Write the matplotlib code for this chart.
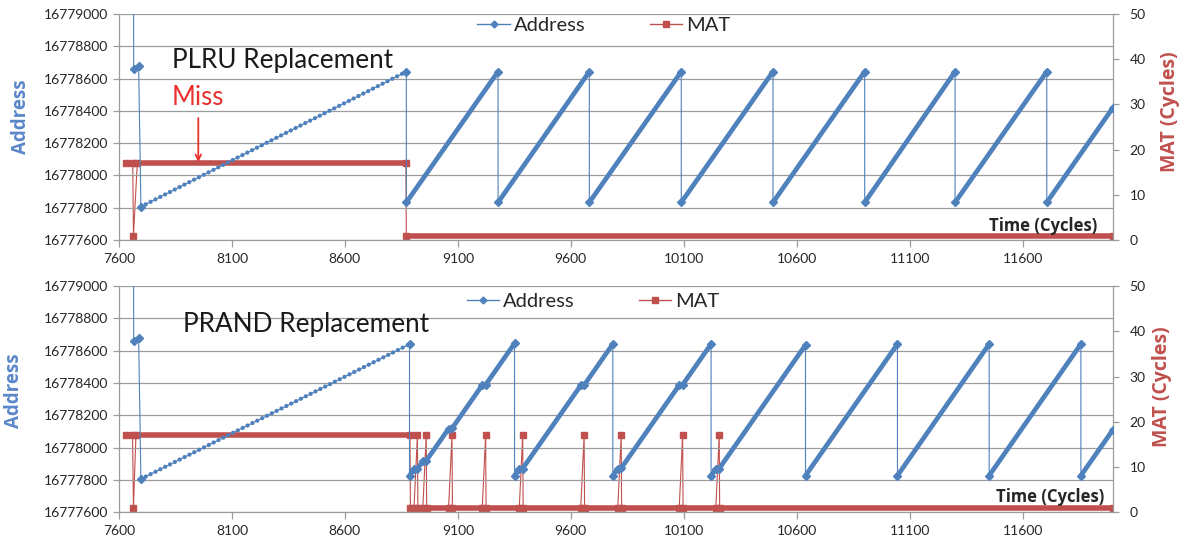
import matplotlib.pyplot as plt
from matplotlib.lines import Line2D

plt.rcParams['font.family'] = ['Lato', 'DejaVu Sans']

# ---- data (time in cycles) ----
# segment kinds: 'step' = single jump, 'sparse' = spaced samples, 'dense' = packed samples
x_ticks = [7600, 8100, 8600, 9100, 9600, 10100, 10600, 11100, 11600]
addr_ticks = [16777600, 16777800, 16778000, 16778200, 16778400, 16778600, 16778800, 16779000]
mat_ticks = [0, 10, 20, 30, 40, 50]

plru_addr_t = [7664, 7665, 7687, 7697, 8872, 8872, 9278, 9278, 9682, 9682, 10089, 10089,
               10495, 10495, 10901, 10901, 11301, 11301, 11707, 11707, 12000]
plru_addr_v = [16779900, 16778661, 16778678, 16777806, 16778643, 16777833, 16778643,
               16777833, 16778643, 16777833, 16778643, 16777833, 16778643, 16777833,
               16778643, 16777833, 16778643, 16777833, 16778643, 16777833, 16778420]
plru_addr_seg = ['step', 'sparse', 'step', 'sparse'] + ['step', 'dense'] * 8

plru_mat_t = [7631, 7661, 7664, 7681, 8870, 8872, 12000]
plru_mat_v = [17, 17, 1, 17, 17, 1, 1]
plru_mat_seg = ['dense', 'step', 'step', 'dense', 'step', 'dense']

prand_addr_t = [7664, 7665, 7687, 7697, 8886, 8886, 8906, 8921, 8945, 8960, 9059, 9074,
                9208, 9223, 9351, 9351, 9372, 9387, 9644, 9659, 9786, 9786, 9808, 9823,
                10080, 10095, 10221, 10221, 10242, 10257, 10639, 10639, 11046, 11046,
                11452, 11452, 11858, 11858, 12000]
prand_addr_v = [16779900, 16778661, 16778678, 16777806, 16778640, 16777827, 16777867,
                16777869, 16777917, 16777919, 16778117, 16778119, 16778387, 16778389,
                16778645, 16777827, 16777869, 16777871, 16778385, 16778387, 16778641,
                16777827, 16777871, 16777873, 16778387, 16778389, 16778641, 16777827,
                16777869, 16777871, 16778635, 16777827, 16778641, 16777827, 16778641,
                16777827, 16778641, 16777827, 16778111]
prand_addr_seg = ['step', 'sparse', 'step', 'sparse',
                  'step', 'dense', 'step', 'dense', 'step', 'dense', 'step', 'dense', 'step', 'dense',
                  'step', 'dense', 'step', 'dense', 'step', 'dense',
                  'step', 'dense', 'step', 'dense', 'step', 'dense',
                  'step', 'dense', 'step', 'dense',
                  'step', 'dense', 'step', 'dense', 'step', 'dense', 'step', 'dense']

prand_mat_t = [7629, 7660, 7664, 7675, 8888, 8890, 8906, 8921, 8923, 8945, 8960, 8962,
               9059, 9074, 9076, 9208, 9223, 9225, 9372, 9387, 9389, 9644, 9659, 9661,
               9808, 9823, 9825, 10080, 10095, 10097, 10242, 10257, 10259, 12000]
prand_mat_v = [17, 17, 1, 17, 17, 1, 1, 17, 1, 1, 17, 1, 1, 17, 1, 1, 17, 1, 1, 17, 1,
               1, 17, 1, 1, 17, 1, 1, 17, 1, 1, 17, 1, 1]
prand_mat_seg = ['dense', 'step', 'step', 'dense', 'step'] + ['dense', 'step', 'step'] * 9 + ['dense']

BLUE = '#4F81BD'
RED = '#C0504D'
GRID = '#9C9C9C'
TXT = '#262626'
BOLD = ['Open Sans', 'DejaVu Sans']


def draw_series(ax, t, v, seg, color, marker, ms, thick, cap):
    ax.plot(t, v, color=color, lw=0.8, marker=marker, ms=ms, mec=color, mfc=color)
    for i, kind in enumerate(seg):
        if kind == 'dense':
            ax.plot(t[i:i + 2], v[i:i + 2], color=color, lw=thick, solid_capstyle=cap)
        elif kind == 'sparse':
            ax.plot(t[i:i + 2], v[i:i + 2], color=color, lw=3.1,
                    ls=(0, (0.01, 1.25)), dash_capstyle='round')


def make_panel(fig, rect, addr_t, addr_v, addr_seg, mat_t, mat_v, mat_seg,
               title, title_pos, time_pos, ylab_pos, y2lab_pos, leg_pos):
    ax = fig.add_axes(rect)
    ax2 = ax.twinx()
    ax.set_zorder(ax2.get_zorder() + 1)
    ax.patch.set_visible(False)

    draw_series(ax2, mat_t, mat_v, mat_seg, RED, 's', 4.5, 4.0, 'butt')
    draw_series(ax, addr_t, addr_v, addr_seg, BLUE, 'D', 3.8, 3.4, 'round')

    ax.set_xlim(7600, 12000)
    ax.set_ylim(16777600, 16779000)
    ax2.set_ylim(0, 50)
    ax.set_xticks(x_ticks)
    ax.set_yticks(addr_ticks)
    ax2.set_yticks(mat_ticks)
    ax.ticklabel_format(axis='y', useOffset=False, style='plain')
    ax.grid(axis='y', color=GRID, lw=0.9)
    ax.grid(axis='x', visible=False)

    for a in (ax, ax2):
        for s in a.spines.values():
            s.set_visible(False)
    ax.spines['left'].set_visible(True)
    ax.spines['bottom'].set_visible(True)
    ax2.spines['right'].set_visible(True)
    for s in (ax.spines['left'], ax.spines['bottom'], ax2.spines['right']):
        s.set_color(GRID)
        s.set_linewidth(0.9)

    ax.tick_params(axis='both', colors=GRID, labelcolor=TXT, labelsize=10, length=4, width=0.9)
    ax.tick_params(axis='x', length=5, pad=4)
    ax2.tick_params(axis='y', colors=GRID, labelcolor=TXT, labelsize=10, length=4, width=0.9, pad=8)

    ax.set_ylabel('Address', color='#5B87C9', fontsize=13.5, fontweight='bold', family=BOLD)
    ax.yaxis.set_label_coords(*ylab_pos)
    ax2.set_ylabel('MAT (Cycles)', color=RED, fontsize=14, fontweight='bold', family=BOLD)
    ax2.yaxis.set_label_coords(*y2lab_pos)

    ax.text(title_pos[0], title_pos[1], title, transform=ax.transAxes, fontsize=18.8,
            color='#1a1a1a', va='baseline', ha='left')
    ax.text(time_pos[0], time_pos[1], 'Time (Cycles)', transform=ax.transAxes, fontsize=12,
            fontweight='bold', family=BOLD, color=TXT, va='center', ha='right')

    handles = [Line2D([], [], color=BLUE, lw=1, marker='D', ms=3.5),
               Line2D([], [], color=RED, lw=1, marker='s', ms=5)]
    fig.legend(handles, ['Address', 'MAT'], loc='center', bbox_to_anchor=leg_pos,
               ncol=2, frameon=False, fontsize=14.5, handlelength=1.6,
               handletextpad=0.2, columnspacing=3.2, labelcolor=TXT)
    return ax, ax2


fig = plt.figure(figsize=(11.84, 5.47), dpi=100)

ax_top, ax_top2 = make_panel(fig, [0.1005, 0.5612, 0.8395, 0.4132],
                             plru_addr_t, plru_addr_v, plru_addr_seg,
                             plru_mat_t, plru_mat_v, plru_mat_seg,
                             'PLRU Replacement', (0.053, 0.76), (0.984, 0.062),
                             (-0.0885, 0.544), (1.047, 0.566), (0.510, 0.954))

ax_top.text(0.053, 0.597, 'Miss', transform=ax_top.transAxes, fontsize=18.5,
            color='#E8302C', va='baseline', ha='left')
ax_top.annotate('', xy=(7951, 0.345), xytext=(7951, 0.54),
                xycoords=ax_top.get_xaxis_transform(),
                arrowprops=dict(arrowstyle='->', color='#E8302C', lw=1.3,
                                shrinkA=0, shrinkB=0))

make_panel(fig, [0.1005, 0.0634, 0.8395, 0.4137],
           prand_addr_t, prand_addr_v, prand_addr_seg,
           prand_mat_t, prand_mat_v, prand_mat_seg,
           'PRAND Replacement', (0.064, 0.799), (0.991, 0.069),
           (-0.0956, 0.537), (1.039, 0.556), (0.501, 0.4485))

fig.savefig('out.png', dpi=100)
